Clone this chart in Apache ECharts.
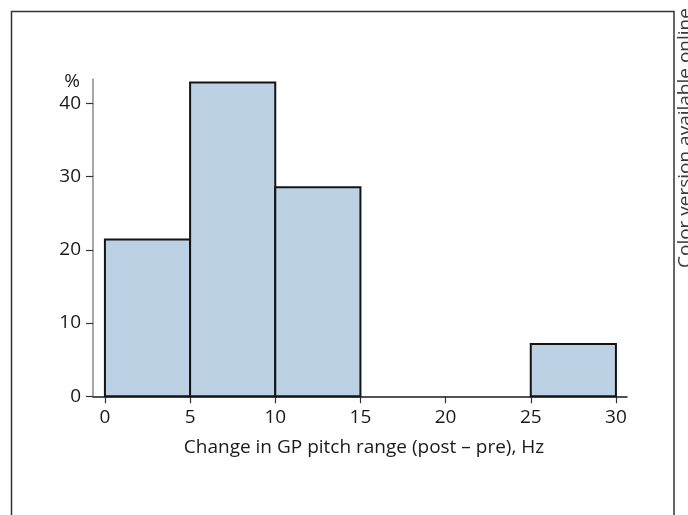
<!DOCTYPE html>
<html>
<head>
<meta charset="utf-8">
<script src="https://cdn.jsdelivr.net/npm/echarts@6/dist/echarts.min.js"></script>
<style>
  html, body { margin: 0; padding: 0; background: #fff; }
  #chart { width: 688px; height: 515px; }
</style>
</head>
<body>
<div id="chart"></div>
<script>
// Histogram bins (Hz) and the share of speakers in each bin (%)
const binStarts = [0, 5, 10, 15, 20, 25];
const binEnds   = [5, 10, 15, 20, 25, 30];
const percents  = [21.43, 42.86, 28.57, 0, 0, 7.14];

const xTicks = [0, 5, 10, 15, 20, 25, 30];
const yTicks = [0, 10, 20, 30, 40];

const xTitle = 'Change in GP pitch range (post \u2013 pre), Hz';
const yTitle = '%';
const sideNote = 'Color version available online';

const FONT = '"Open Sans", "Noto Sans", sans-serif';

const binData = binStarts.map((s, i) => [s, binEnds[i], percents[i]]);

const chart = echarts.init(document.getElementById('chart'), null, { renderer: 'canvas' });

chart.setOption({
  animation: false,
  backgroundColor: '#ffffff',
  grid: { left: 93, right: 61, top: 79.3, bottom: 118.7 },
  xAxis: {
    type: 'value',
    min: -0.7,
    max: 30.65,
    splitLine: { show: false },
    axisLine: { lineStyle: { color: '#1a1a1a', width: 1.5 } },
    axisTick: { customValues: xTicks, length: 7, lineStyle: { color: '#333', width: 1.2 } },
    axisLabel: { customValues: xTicks, margin: 12, color: '#1a1a1a', fontSize: 19, fontFamily: FONT },
    name: xTitle,
    nameLocation: 'middle',
    nameGap: 42,
    nameTextStyle: { color: '#1a1a1a', fontSize: 19, fontFamily: FONT, padding: [0, 0, 0, 8] }
  },
  yAxis: {
    type: 'value',
    min: 0,
    max: 43.3,
    splitLine: { show: false },
    axisLine: { show: true, onZero: false, lineStyle: { color: '#8a8a8a', width: 1.5 } },
    axisTick: { show: true, customValues: yTicks, length: 7, lineStyle: { color: '#333', width: 1.2 } },
    axisLabel: { customValues: yTicks, margin: 12, color: '#1a1a1a', fontSize: 19, fontFamily: FONT },
    name: yTitle,
    nameLocation: 'end',
    nameGap: -2,
    nameTextStyle: { color: '#1a1a1a', fontSize: 19, fontFamily: FONT, align: 'right', verticalAlign: 'middle', padding: [0, 13, 0, 0] }
  },
  series: [{
    type: 'custom',
    clip: false,
    data: binData,
    encode: { x: [0, 1], y: 2 },
    renderItem: function (params, api) {
      const v = api.value(2);
      if (!v) return null;
      const topLeft = api.coord([api.value(0), v]);
      const bottomRight = api.coord([api.value(1), 0]);
      return {
        type: 'rect',
        shape: {
          x: topLeft[0],
          y: topLeft[1],
          width: bottomRight[0] - topLeft[0],
          height: bottomRight[1] - topLeft[1]
        },
        style: { fill: '#bcd1e4', stroke: '#141414', lineWidth: 2 }
      };
    }
  }],
  graphic: [
    {
      type: 'rect',
      silent: true,
      shape: { x: 11.5, y: 11.5, width: 662.5, height: 620 },
      style: { fill: 'none', stroke: '#333', lineWidth: 1.5 }
    },
    {
      type: 'text',
      silent: true,
      x: 676,
      y: 268,
      rotation: Math.PI / 2,
      style: {
        text: sideNote,
        fill: '#3a3a3a',
        font: '19px ' + FONT,
        align: 'left',
        verticalAlign: 'top'
      }
    }
  ]
});
</script>
</body>
</html>
